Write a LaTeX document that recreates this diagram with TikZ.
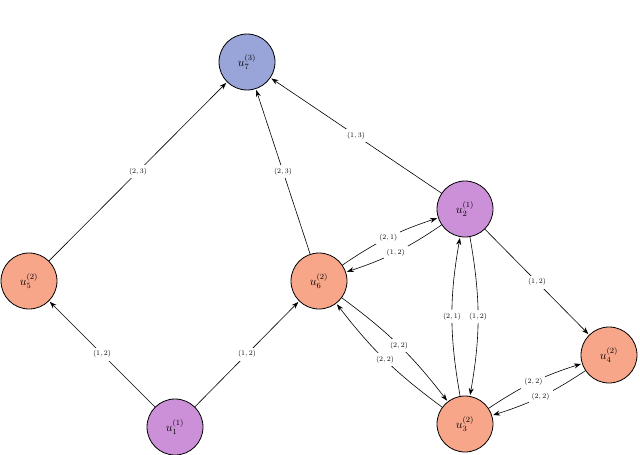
\documentclass[tikz,border=0pt]{standalone}
\usetikzlibrary{arrows.meta}
\definecolor{org}{HTML}{F8A68A}
\definecolor{pur}{HTML}{CC90D8}
\definecolor{blu}{HTML}{99A4D8}
\begin{document}
\begin{tikzpicture}[x=1pt,y=-1pt,
  v/.style={circle,draw,thick,minimum size=56pt,inner sep=0pt,font=\large},
  e/.style={-{Stealth[length=7pt,width=5pt]},semithick,shorten >=1pt},
  l/.style={fill=white,font=\scriptsize,inner sep=3pt}]
\useasboundingbox (0,0) rectangle (640,455);
\node[v,fill=blu] (u7) at (247,62) {$u_7^{(3)}$};
\node[v,fill=org] (u5) at (29,281) {$u_5^{(2)}$};
\node[v,fill=org] (u6) at (319,281) {$u_6^{(2)}$};
\node[v,fill=pur] (u2) at (465,209) {$u_2^{(1)}$};
\node[v,fill=pur] (u1) at (175,427) {$u_1^{(1)}$};
\node[v,fill=org] (u3) at (465,424) {$u_3^{(2)}$};
\node[v,fill=org] (u4) at (609,355) {$u_4^{(2)}$};
\draw[e] (u5) -- node[l]{$(2,3)$} (u7);
\draw[e] (u6) -- node[l]{$(2,3)$} (u7);
\draw[e] (u2) -- node[l]{$(1,3)$} (u7);
\draw[e] (u1) -- node[l]{$(1,2)$} (u5);
\draw[e] (u1) -- node[l]{$(1,2)$} (u6);
\draw[e] (u6) to[bend left=8] node[l]{$(2,1)$} (u2);
\draw[e] (u2) to[bend left=8] node[l]{$(1,2)$} (u6);
\draw[e] (u2) -- node[l]{$(1,2)$} (u4);
\draw[e] (u3) to[bend left=10] node[l]{$(2,1)$} (u2);
\draw[e] (u2) to[bend left=10] node[l]{$(1,2)$} (u3);
\draw[e] (u6) to[bend left=8] node[l]{$(2,2)$} (u3);
\draw[e] (u3) to[bend left=8] node[l]{$(2,2)$} (u6);
\draw[e] (u3) to[bend left=8] node[l]{$(2,2)$} (u4);
\draw[e] (u4) to[bend left=8] node[l]{$(2,2)$} (u3);
\end{tikzpicture}
\end{document}
